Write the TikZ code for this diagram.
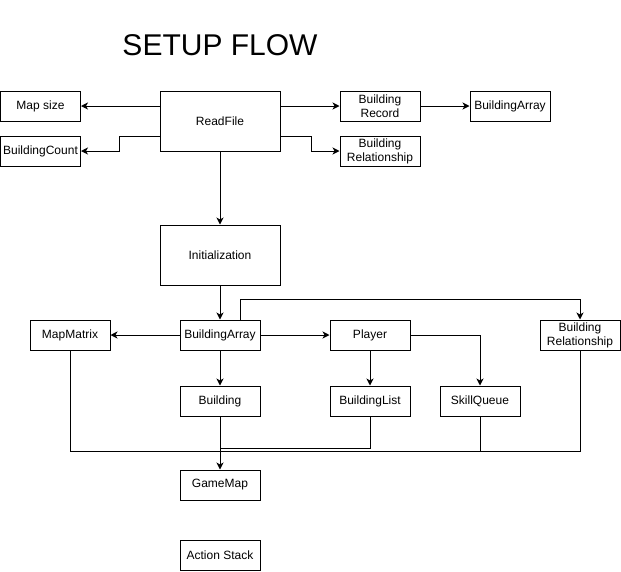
\documentclass[tikz,border=0pt]{standalone}
\usepackage{fontspec}
\setmainfont{Liberation Sans}
\usepackage{tikz}
\usetikzlibrary{arrows.meta,positioning}
\tikzset{
  ar/.style={-{Stealth[length=7pt,width=7pt,inset=2pt]},line width=1pt},
  ln/.style={line width=1pt},
  box/.style={draw,line width=1pt,minimum width=80pt,minimum height=30pt,inner sep=0pt,align=center,font=\fontsize{12}{14}\selectfont},
  bigbox/.style={box,minimum width=120pt,minimum height=60pt}
}
\begin{document}
\begin{tikzpicture}[x=1pt,y=-1pt]
\useasboundingbox (0,0) rectangle (621,571);
\node[font=\fontsize{30}{34}\selectfont] (ttl) at (220,45) {SETUP FLOW};
% reading stage
\node[bigbox] (rf) at (220,121) {ReadFile};
\node[box] (ms) at (40.5,106) {Map size};
\node[box] (bc) at (40.5,151) {BuildingCount};
\node[box] (brc) at (380,106) {Building\\Record};
\node[box] (brl) at (380,151) {Building\\Relationship};
\node[box] (bar) at (510,106) {BuildingArray};
\draw[ar] (rf.west |- ms) -- (ms);
\draw[ar] ([yshift=-15pt]rf.west) -- ++(-40,0) |- (bc);
\draw[ar] (rf.east |- brc) -- (brc);
\draw[ar] ([yshift=-15pt]rf.east) -- ++(31,0) |- (brl);
\draw[ar] (brc) -- (bar);
% setup stage
\node[bigbox] (ini) at (220,255) {Initialization};
\node[box] (ba) at (220,335) {BuildingArray};
\node[box] (mm) at (70,335) {MapMatrix};
\node[box] (pl) at (370,335) {Player};
\node[box] (rel) at (580,335) {Building\\Relationship};
\node[box] (bd) at (220,401) {Building};
\node[box] (bl) at (370,401) {BuildingList};
\node[box] (sq) at (480,401) {SkillQueue};
\draw[ar] (rf) -- (ini);
\draw[ar] (ini) -- (ba);
\draw[ar] (ba) -- (mm);
\draw[ar] (ba) -- (pl);
\draw[ar] (ba) -- (bd);
\draw[ar] ([xshift=20pt]ba.north) -- ++(0,-20) -| (rel);
\draw[ar] (pl) -- (bl);
\draw[ar] (pl) -| (sq);
% merge into game map
\node[box] (gm) at (220,485) {GameMap};
\node[box] (as) at (220,555) {Action Stack};
\coordinate (jn) at (220,451);
\draw[ln] (mm) |- (jn);
\draw[ln] (sq) |- (jn);
\draw[ln] (rel) |- (jn);
\draw[ln] (bl) |- ([yshift=3pt]jn);
\draw[ar] (bd) -- (gm);
\end{tikzpicture}
\end{document}
